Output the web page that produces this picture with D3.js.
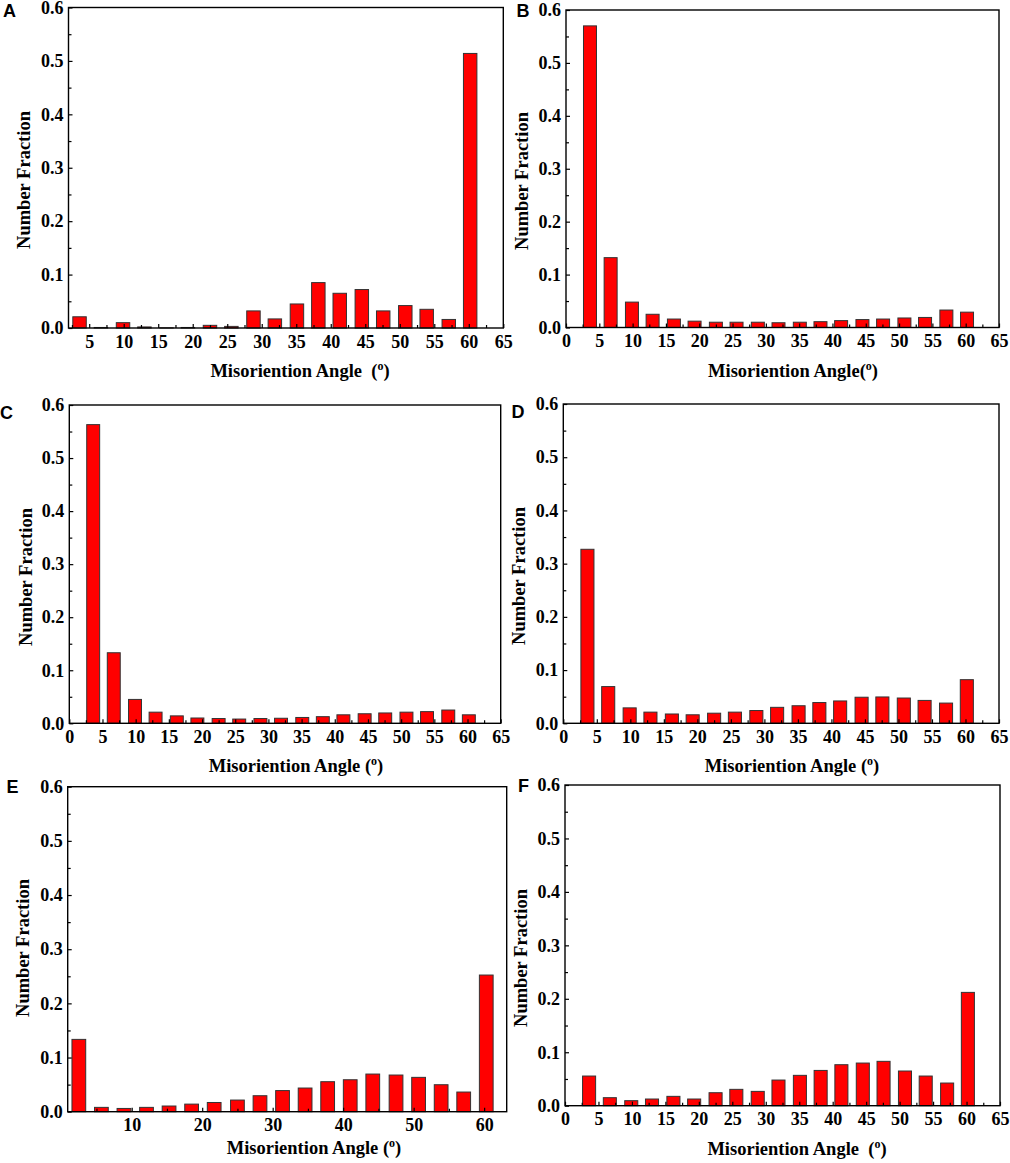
<!DOCTYPE html>
<html>
<head>
<meta charset="utf-8">
<script src="https://cdn.jsdelivr.net/npm/d3@7"></script>
<style>
body { margin: 0; background: #fff; }
svg text { font-family: "Liberation Serif", "Times New Roman", serif; font-weight: bold; fill: #000; }
svg text.letter { font-family: "Liberation Sans", Arial, sans-serif; font-size: 18px; }
.tick text { font-size: 18px; }
.title { font-size: 18.5px; }
</style>
</head>
<body>
<svg id="fig" width="1010" height="1163"></svg>
<script>
// bin centres (deg)
let angles = [3.6, 6.7, 9.9, 13.0, 16.2, 19.3, 22.5, 25.6, 28.8, 31.9, 35.1, 38.2, 41.3, 44.5, 47.6, 50.8, 53.9, 57.1, 60.2];
let anglesE = [2.5, 5.7, 8.9, 12.1, 15.3, 18.5, 21.7, 25.0, 28.2, 31.4, 34.6, 37.8, 41.0, 44.2, 47.5, 50.7, 53.9, 57.1, 60.3];

// number fraction per bin
let fractionA = [0.021, 0.001, 0.010, 0.002, 0.0003, 0.001, 0.005, 0.003, 0.032, 0.017, 0.045, 0.085, 0.065, 0.072, 0.032, 0.042, 0.035, 0.016, 0.514];
let fractionB = [0.570, 0.132, 0.048, 0.025, 0.016, 0.012, 0.010, 0.010, 0.010, 0.009, 0.010, 0.011, 0.013, 0.015, 0.016, 0.018, 0.019, 0.033, 0.029];
let fractionC = [0.563, 0.133, 0.045, 0.021, 0.014, 0.010, 0.009, 0.008, 0.009, 0.0095, 0.011, 0.0125, 0.016, 0.018, 0.0195, 0.021, 0.022, 0.025, 0.016];
let fractionD = [0.327, 0.069, 0.029, 0.021, 0.0175, 0.016, 0.019, 0.021, 0.024, 0.030, 0.033, 0.039, 0.042, 0.049, 0.0495, 0.0475, 0.043, 0.038, 0.082];
let fractionE = [0.1335, 0.008, 0.006, 0.008, 0.0105, 0.014, 0.017, 0.0215, 0.0295, 0.039, 0.0437, 0.0554, 0.059, 0.0695, 0.0677, 0.0634, 0.0498, 0.0363, 0.2523];
let fractionF = [0.0555, 0.015, 0.0094, 0.0125, 0.0175, 0.0125, 0.0243, 0.0306, 0.0268, 0.048, 0.0568, 0.066, 0.0767, 0.0798, 0.083, 0.0649, 0.0555, 0.0424, 0.212];

let yTicks = [0, 0.1, 0.2, 0.3, 0.4, 0.5, 0.6];
let yMinor = [0.05, 0.15, 0.25, 0.35, 0.45, 0.55];
let xTicks = [0, 5, 10, 15, 20, 25, 30, 35, 40, 45, 50, 55, 60, 65];
let xTicksA = [5, 10, 15, 20, 25, 30, 35, 40, 45, 50, 55, 60, 65];
let xMinor = [2.5, 7.5, 12.5, 17.5, 22.5, 27.5, 32.5, 37.5, 42.5, 47.5, 52.5, 57.5, 62.5];
let xTicksE = [10, 20, 30, 40, 50, 60];
let xMinorE = [5, 15, 25, 35, 45, 55];

let barHalf = 0.975;

let panels = [
    {id: 'A', x: angles, v: fractionA, dom: [2, 65], ticks: xTicksA, minor: xMinor,
     l: 68.5, r: 503.3, t: 7.5, b: 328, tx: 300, ty: 377, gap: '\u00a0\u00a0', yx: 30, yy: 180, lx: 3, ly: 17},
    {id: 'B', x: angles, v: fractionB, dom: [0, 65], ticks: xTicks, minor: xMinor,
     l: 566, r: 999, t: 10, b: 327.5, tx: 793, ty: 377, gap: '', yx: 528, yy: 181, lx: 516.5, ly: 17},
    {id: 'C', x: angles, v: fractionC, dom: [0, 65], ticks: xTicks, minor: xMinor,
     l: 69.3, r: 500.7, t: 405, b: 723.3, tx: 296, ty: 772, gap: '\u00a0', yx: 31.5, yy: 577, lx: 0, ly: 419},
    {id: 'D', x: angles, v: fractionD, dom: [0, 65], ticks: xTicks, minor: xMinor,
     l: 563.3, r: 999, t: 404, b: 723.3, tx: 792, ty: 772, gap: '\u00a0', yx: 525, yy: 576, lx: 511.5, ly: 418},
    {id: 'E', x: anglesE, v: fractionE, dom: [0.92, 63.2], ticks: xTicksE, minor: xMinorE,
     l: 67.7, r: 506.7, t: 786.7, b: 1111.7, tx: 314, ty: 1154, gap: '\u00a0', yx: 28.5, yy: 948, lx: 6.5, ly: 793},
    {id: 'F', x: angles, v: fractionF, dom: [0, 65], ticks: xTicks, minor: xMinor,
     l: 565, r: 1000, t: 785, b: 1105.7, tx: 797, ty: 1155, gap: '\u00a0\u00a0', yx: 526.5, yy: 958, lx: 518, ly: 792}
];

let svg = d3.select('#fig');

panels.forEach(function(p) {
    let x = d3.scaleLinear().domain(p.dom).range([p.l, p.r]);
    let y = d3.scaleLinear().domain([0, 0.6]).range([p.b, p.t]);

    let g = svg.append('g').attr('class', 'panel panel-' + p.id);

    // bars
    g.append('g').selectAll('rect')
        .data(p.v)
        .enter().append('rect')
        .attr('x', function(d, i) { return x(p.x[i] - barHalf) })
        .attr('width', function(d, i) { return x(p.x[i] + barHalf) - x(p.x[i] - barHalf) })
        .attr('y', function(d) { return y(d) })
        .attr('height', function(d) { return y(0) - y(d) })
        .attr('fill', '#ff0000')
        .attr('stroke', '#333')
        .attr('stroke-width', 1);

    // minor ticks
    g.append('g')
        .attr('transform', 'translate(' + p.l + ',0)')
        .call(d3.axisLeft(y).tickValues(yMinor).tickSize(-3).tickFormat(''))
        .call(function(s) { s.select('.domain').remove() });
    g.append('g')
        .attr('transform', 'translate(0,' + p.b + ')')
        .call(d3.axisBottom(x).tickValues(p.minor).tickSize(-3).tickFormat(''))
        .call(function(s) { s.select('.domain').remove() });

    // major ticks + labels
    g.append('g')
        .attr('transform', 'translate(' + p.l + ',0)')
        .call(d3.axisLeft(y).tickValues(yTicks).tickSize(-4).tickPadding(5).tickFormat(d3.format('.1f')))
        .call(function(s) { s.select('.domain').remove() })
        .attr('font-family', null).attr('font-size', null);
    g.append('g')
        .attr('transform', 'translate(0,' + p.b + ')')
        .call(d3.axisBottom(x).tickValues(p.ticks).tickSize(-4).tickPadding(7))
        .call(function(s) { s.select('.domain').remove() })
        .attr('font-family', null).attr('font-size', null);

    g.selectAll('.tick line').attr('stroke-width', 1.2);

    // frame
    g.append('rect')
        .attr('x', p.l).attr('y', p.t)
        .attr('width', p.r - p.l).attr('height', p.b - p.t)
        .attr('fill', 'none')
        .attr('stroke', '#000')
        .attr('stroke-width', 1.4);

    // x title
    let xt = g.append('text')
        .attr('class', 'title')
        .attr('x', p.tx).attr('y', p.ty)
        .attr('text-anchor', 'middle');
    xt.append('tspan').text('Misoriention Angle' + p.gap + '(');
    xt.append('tspan').attr('font-size', 12).attr('dy', -7).text('o');
    xt.append('tspan').attr('dy', 7).text(')');

    // y title
    g.append('text')
        .attr('class', 'title')
        .attr('transform', 'translate(' + p.yx + ',' + p.yy + ') rotate(-90)')
        .attr('text-anchor', 'middle')
        .text('Number Fraction');

    // panel letter
    g.append('text')
        .attr('class', 'letter')
        .attr('x', p.lx).attr('y', p.ly)
        .text(p.id);
});
</script>
</body>
</html>
